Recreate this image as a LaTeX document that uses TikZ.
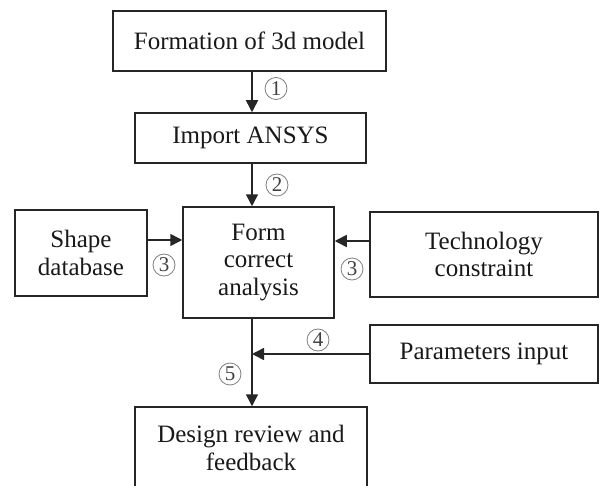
\documentclass[tikz,border=0pt]{standalone}
\usepackage{fontspec}
\setmainfont{Liberation Serif}
\usetikzlibrary{arrows.meta,calc}
\tikzset{
  box/.style={draw=black!85, line width=1.5pt, align=center, inner sep=0pt,
    font=\fontsize{25}{27.5}\selectfont, text=black!90},
  arr/.style={draw=black!85, line width=1.5pt, -{Triangle[length=12pt,width=12pt]}},
  num/.style={circle, draw=black!50, line width=0.8pt, inner sep=0pt, minimum size=22pt,
    font=\fontsize{21}{21}\selectfont, text=black!75}
}
\begin{document}
\begin{tikzpicture}[x=1pt,y=-1pt]
\clip (0,0) rectangle (601,486);
\fill[white] (0,0) rectangle (601,486);
\node[box, minimum width=273pt, minimum height=60pt] (f3d) at (249.5,41) {Formation of 3d model};
\node[box, minimum width=231pt, minimum height=50pt] (ansys) at (250.5,138) {Import ANSYS};
\node[box, minimum width=151pt, minimum height=111pt] (form) at (258.5,262.5) {Form\\correct\\analysis};
\node[box, minimum width=132pt, minimum height=86pt] (shape) at (81,253) {Shape\\database};
\node[box, minimum width=228pt, minimum height=85pt] (tech) at (484,254.5) {Technology\\constraint};
\node[box, minimum width=228pt, minimum height=58pt] (params) at (484,354) {Parameters input};
\node[box, minimum width=232pt, minimum height=82pt] (design) at (251,448) {Design review and\\feedback};
\coordinate (spine) at (252,0);
\coordinate (yl) at (0,240);
\coordinate (yr) at (0,241);
\coordinate (join) at (252,354);
\draw[arr] (f3d.south -| spine) -- (ansys.north -| spine);
\draw[arr] (ansys.south -| spine) -- (form.north -| spine);
\draw[arr] (shape.east |- yl) -- (form.west |- yl);
\draw[arr] (tech.west |- yr) -- (form.east |- yr);
\draw[arr] (form.south -| spine) -- (design.north -| spine);
\draw[arr] (params.west) -- (join);
\node[num] (n1) at (276,88.5) {1};
\node[num] (n2) at (277,185) {2};
\node[num] (n3a) at (164,265) {3};
\node[num] (n3b) at (352,269) {3};
\node[num] (n4) at (318,340) {4};
\node[num] (n5) at (230,374) {5};
\end{tikzpicture}
\end{document}
